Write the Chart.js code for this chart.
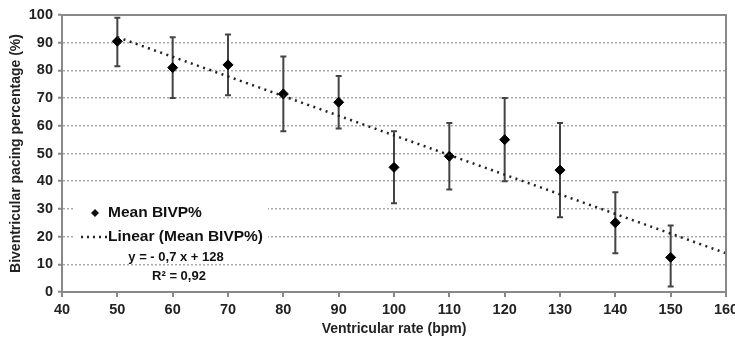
<!DOCTYPE html>
<html>
<head>
<meta charset="utf-8">
<script src="https://cdn.jsdelivr.net/npm/chart.js@4"></script>
<style>
  html, body { margin: 0; padding: 0; background: #fff; }
  #wrap { width: 735px; height: 337px; position: relative; }
</style>
</head>
<body>
<div id="wrap"><canvas id="bivpChart"></canvas></div>
<script>
// Data
const rates = [50, 60, 70, 80, 90, 100, 110, 120, 130, 140, 150];
const meanBIVP = [90.5, 81, 82, 71.5, 68.5, 45, 49, 55, 44, 25, 12.5];
const errLow = [81.5, 70, 71, 58, 59, 32, 37, 40, 27, 14, 2];
const errHigh = [99, 92, 93, 85, 78, 58, 61, 70, 61, 36, 24];
// trend line endpoints (x, y)
const trendX = [50, 160];
const trendY = [92, 14];
const equationText = ['y = - 0,7 x + 128', 'R² = 0,92'];

const FONT = '"Liberation Sans", Arial, sans-serif';

// Error bars, frame and in-plot legend
const extras = {
    id: 'extras',
    beforeDatasetsDraw(chart) {
        const { ctx, scales: { x, y } } = chart;
        ctx.save();
        ctx.strokeStyle = '#444';
        ctx.lineWidth = 2;
        rates.forEach((r, i) => {
            const px = x.getPixelForValue(r);
            const yl = y.getPixelForValue(errLow[i]);
            const yh = y.getPixelForValue(errHigh[i]);
            ctx.beginPath();
            ctx.moveTo(px, yl); ctx.lineTo(px, yh);
            ctx.moveTo(px - 3, yl); ctx.lineTo(px + 3, yl);
            ctx.moveTo(px - 3, yh); ctx.lineTo(px + 3, yh);
            ctx.stroke();
        });
        ctx.restore();
    },
    afterDraw(chart) {
        const { ctx, chartArea: a } = chart;
        ctx.save();
        // frame top/right
        ctx.strokeStyle = '#888';
        ctx.lineWidth = 2;
        ctx.beginPath();
        ctx.moveTo(a.left, a.top); ctx.lineTo(a.right, a.top); ctx.lineTo(a.right, a.bottom);
        ctx.stroke();

        // legend box
        ctx.fillStyle = '#fff';
        ctx.fillRect(a.left + 12, a.top + 184, 194, 46);
        ctx.fillStyle = '#111';
        // diamond marker
        const dx = a.left + 33, dy = a.top + 198;
        ctx.beginPath();
        ctx.moveTo(dx, dy - 4); ctx.lineTo(dx + 4, dy); ctx.lineTo(dx, dy + 4); ctx.lineTo(dx - 4, dy);
        ctx.closePath(); ctx.fill();
        // dotted sample
        ctx.strokeStyle = '#222';
        ctx.lineWidth = 2.5;
        ctx.setLineDash([2, 4]);
        ctx.beginPath();
        ctx.moveTo(a.left + 19, a.top + 222); ctx.lineTo(a.left + 45, a.top + 222);
        ctx.stroke();
        ctx.setLineDash([]);
        ctx.font = 'bold 15.5px ' + FONT;
        ctx.textBaseline = 'middle';
        ctx.textAlign = 'left';
        ctx.fillText('Mean BIVP%', a.left + 46, dy);
        ctx.fillText('Linear (Mean BIVP%)', a.left + 46, a.top + 222);
        ctx.font = 'bold 13px ' + FONT;
        ctx.textAlign = 'center';
        ctx.fillText(equationText[0], a.left + 114, a.top + 242);
        ctx.fillText(equationText[1], a.left + 117, a.top + 261);
        ctx.restore();
    }
};

const ctx = document.getElementById('bivpChart').getContext('2d');

new Chart(ctx, {
    type: 'scatter',
    data: {
        datasets: [
            {
                label: 'Linear (Mean BIVP%)',
                type: 'line',
                data: trendX.map((v, i) => ({ x: v, y: trendY[i] })),
                borderColor: '#222',
                borderWidth: 2.5,
                borderDash: [2, 4.5],
                pointRadius: 0,
                fill: false
            },
            {
                label: 'Mean BIVP%',
                data: rates.map((r, i) => ({ x: r, y: meanBIVP[i] })),
                pointStyle: 'rectRot',
                pointRadius: 5,
                backgroundColor: '#000',
                borderColor: '#000'
            }
        ]
    },
    options: {
        responsive: true,
        maintainAspectRatio: false,
        animation: false,
        layout: { padding: { top: 15, right: 9, left: 0, bottom: 0 } },
        plugins: {
            legend: { display: false },
            tooltip: { enabled: false }
        },
        scales: {
            x: {
                type: 'linear',
                min: 40, max: 160,
                afterFit(s) { s.height = 45; s.paddingRight = 0; s.paddingLeft = 0; },
                ticks: { stepSize: 10, color: '#222', font: { family: FONT, size: 14.5, weight: 'bold' }, padding: 4, maxRotation: 0 },
                grid: { drawOnChartArea: false, drawTicks: true, tickLength: 5, color: '#888', lineWidth: 2 },
                border: { color: '#888', width: 2 },
                title: { display: true, text: 'Ventricular rate (bpm)', color: '#222', font: { family: FONT, size: 14, weight: 'bold' }, padding: { top: 0, bottom: -1 } }
            },
            y: {
                min: 0, max: 100,
                afterFit(s) { s.width = 62; },
                ticks: { stepSize: 10, color: '#222', font: { family: FONT, size: 14.5, weight: 'bold' }, padding: 5 },
                grid: { color: '#aaa', lineWidth: 1.5, tickLength: 4, tickBorderDash: [], tickColor: '#888', tickWidth: 2 },
                border: { color: '#888', width: 2, dash: [2, 2] },
                title: { display: true, text: 'Biventricular pacing percentage (%)', color: '#222', font: { family: FONT, size: 14, weight: 'bold' }, padding: { top: 8, bottom: 0 } }
            }
        }
    },
    plugins: [extras]
});
</script>
</body>
</html>
